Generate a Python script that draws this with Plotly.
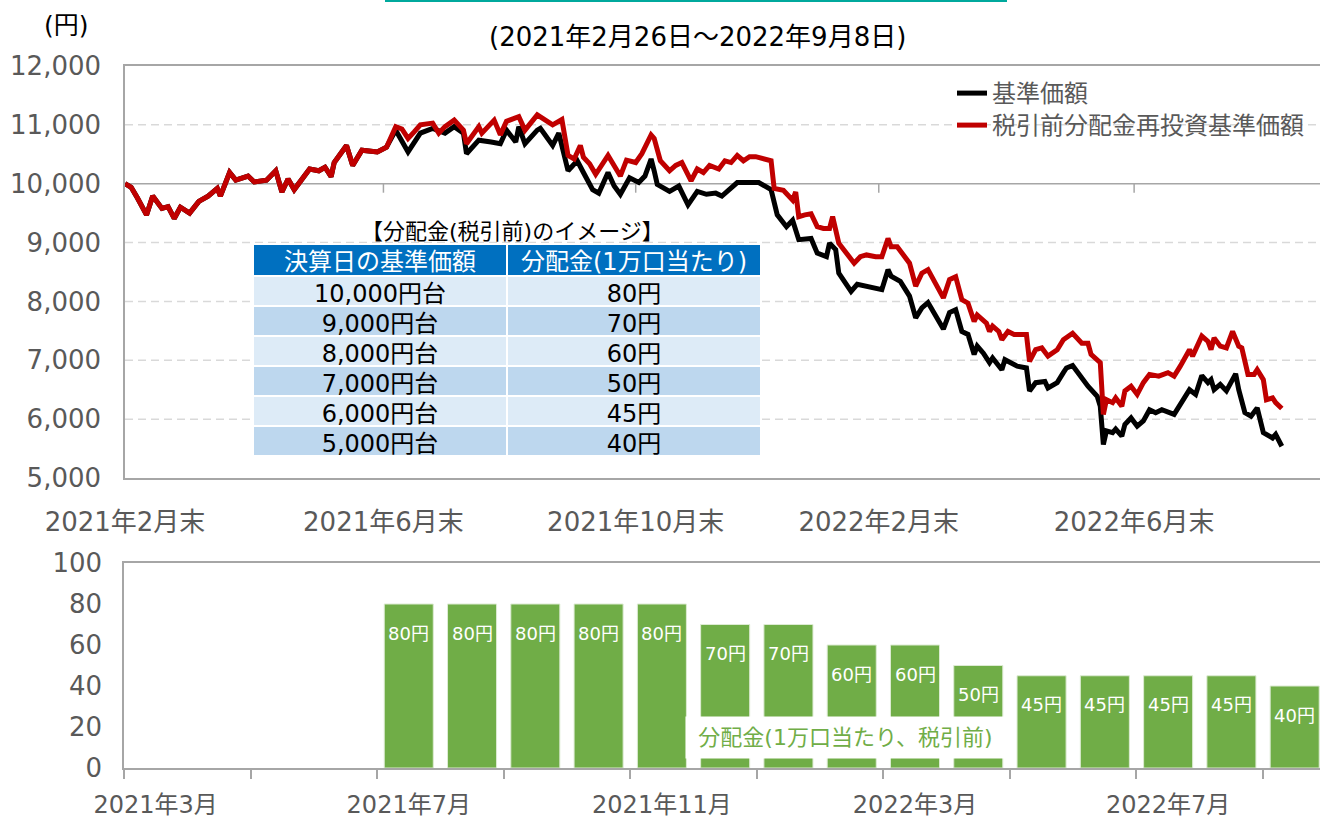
import plotly.graph_objects as go

FONT = "DejaVu Sans, Noto Sans CJK JP, sans-serif"
GRAY_TXT = "#595959"
AXIS = "#A6A6A6"
GRID = "#D9D9D9"
W, H = 1320, 819


def px(x):
    return x / W


def py(y):
    return 1 - y / H


# ---------------- data: NAV lines ----------------
shared_dates = ["2021-02-26", "2021-03-02", "2021-03-04", "2021-03-09", "2021-03-11", "2021-03-16",
                "2021-03-18", "2021-03-22", "2021-03-24", "2021-03-29", "2021-04-01", "2021-04-06",
                "2021-04-09", "2021-04-12", "2021-04-15", "2021-04-19", "2021-04-23", "2021-04-27",
                "2021-05-07", "2021-05-12", "2021-05-14", "2021-05-18", "2021-05-20", "2021-05-27",
                "2021-06-01", "2021-06-03", "2021-06-07", "2021-06-08", "2021-06-14", "2021-06-16",
                "2021-06-21", "2021-06-28", "2021-07-01"]
shared_values = [10000, 9940, 9760, 9470, 9790, 9580, 9610, 9410, 9600, 9500, 9700, 9790,
                 9920, 9790, 10190, 10060, 10130, 10030, 10060, 10220, 9860, 10080, 9900, 10250,
                 10220, 10280, 10120, 10360, 10650, 10310, 10570, 10540, 10620]

reinv_dates_later = ["2021-07-06", "2021-07-08", "2021-07-12", "2021-07-14", "2021-07-16", "2021-07-26",
                     "2021-07-28", "2021-07-30", "2021-08-04", "2021-08-10", "2021-08-11", "2021-08-17",
                     "2021-08-18", "2021-08-24", "2021-08-26", "2021-08-30", "2021-09-03", "2021-09-07",
                     "2021-09-13", "2021-09-21", "2021-09-27", "2021-09-29", "2021-10-01", "2021-10-05",
                     "2021-10-06", "2021-10-08", "2021-10-12", "2021-10-18", "2021-10-20", "2021-10-22",
                     "2021-10-26", "2021-10-29", "2021-11-02", "2021-11-08", "2021-11-09", "2021-11-11",
                     "2021-11-16", "2021-11-18", "2021-11-22", "2021-11-26", "2021-11-30", "2021-12-02",
                     "2021-12-06", "2021-12-09", "2021-12-13", "2021-12-15", "2021-12-17", "2021-12-21",
                     "2021-12-23", "2021-12-27", "2022-01-05", "2022-01-06", "2022-01-12", "2022-01-17",
                     "2022-01-18", "2022-01-19", "2022-01-21", "2022-01-25", "2022-01-27", "2022-01-31",
                     "2022-02-02", "2022-02-03", "2022-02-07", "2022-02-15", "2022-02-17", "2022-02-21",
                     "2022-02-25", "2022-03-01", "2022-03-03", "2022-03-04", "2022-03-08", "2022-03-14",
                     "2022-03-16", "2022-03-18", "2022-03-23", "2022-03-25", "2022-03-30", "2022-04-01",
                     "2022-04-05", "2022-04-07", "2022-04-11", "2022-04-13", "2022-04-14", "2022-04-19",
                     "2022-04-20", "2022-04-21", "2022-04-25", "2022-04-26", "2022-04-28", "2022-05-06",
                     "2022-05-12", "2022-05-13", "2022-05-17", "2022-05-19", "2022-05-23", "2022-05-26",
                     "2022-05-30", "2022-06-02", "2022-06-03", "2022-06-07", "2022-06-09", "2022-06-10",
                     "2022-06-15", "2022-06-16", "2022-06-17", "2022-06-21", "2022-06-22", "2022-06-24",
                     "2022-06-27", "2022-06-29", "2022-07-01", "2022-07-05", "2022-07-07", "2022-07-12",
                     "2022-07-15", "2022-07-20", "2022-07-22", "2022-07-26", "2022-07-27", "2022-07-28",
                     "2022-08-01", "2022-08-02", "2022-08-04", "2022-08-05", "2022-08-08", "2022-08-10",
                     "2022-08-15", "2022-08-17", "2022-08-19", "2022-08-22", "2022-08-24", "2022-08-26",
                     "2022-08-29", "2022-08-31", "2022-09-01", "2022-09-05", "2022-09-06", "2022-09-08"]
reinv_values_later = [10970, 10930, 10770, 10880, 11000, 11030,
                      10860, 10970, 11080, 10910, 10680, 10970,
                      10860, 11080, 10830, 11060, 11140, 10910,
                      11170, 11000, 11090, 10480, 10420, 10650,
                      10450, 10340, 10160, 10480, 10310, 10130,
                      10400, 10360, 10510, 10830, 10770, 10390,
                      10220, 10310, 10360, 10050, 10250, 10190,
                      10310, 10250, 10390, 10360, 10480, 10390,
                      10460, 10460, 10390, 9920, 9890, 9720,
                      9860, 9440, 9470, 9490, 9270, 9240,
                      9240, 9440, 8990, 8650, 8760, 8790,
                      8760, 8760, 9070, 8930, 8930, 8650,
                      8260, 8480, 8540, 8340, 8060, 8370,
                      8420, 8030, 7970, 7660, 7770, 7630,
                      7490, 7580, 7490, 7350, 7490, 7440,
                      7440, 6980, 7180, 7210, 7070, 7180,
                      7350, 7460, 7410, 7290, 7290, 7100,
                      6960, 6080, 6330, 6280, 6360, 6220,
                      6480, 6560, 6420, 6620, 6760, 6730,
                      6790, 6730, 6900, 7070, 7180, 7070,
                      7290, 7410, 7320, 7180, 7380, 7240,
                      7210, 7490, 7240, 7210, 6760, 6760,
                      6840, 6670, 6330, 6360, 6280, 6180]

nav_dates_later = ["2021-07-06", "2021-07-12", "2021-07-16", "2021-07-26", "2021-07-30", "2021-08-04",
                   "2021-08-10", "2021-08-11", "2021-08-17", "2021-08-23", "2021-08-26", "2021-08-30",
                   "2021-09-02", "2021-09-03", "2021-09-07", "2021-09-13", "2021-09-14", "2021-09-21",
                   "2021-09-24", "2021-09-29", "2021-10-04", "2021-10-06", "2021-10-11", "2021-10-13",
                   "2021-10-18", "2021-10-20", "2021-10-22", "2021-10-27", "2021-11-01", "2021-11-04",
                   "2021-11-08", "2021-11-09", "2021-11-10", "2021-11-16", "2021-11-19", "2021-11-25",
                   "2021-11-30", "2021-12-03", "2021-12-08", "2021-12-10", "2021-12-15", "2021-12-17",
                   "2021-12-22", "2021-12-28", "2022-01-05", "2022-01-07", "2022-01-13", "2022-01-17",
                   "2022-01-19", "2022-01-21", "2022-01-25", "2022-01-27", "2022-02-01", "2022-02-02",
                   "2022-02-04", "2022-02-07", "2022-02-14", "2022-02-16", "2022-02-21", "2022-02-25",
                   "2022-03-01", "2022-03-03", "2022-03-04", "2022-03-09", "2022-03-14", "2022-03-16",
                   "2022-03-18", "2022-03-23", "2022-03-25", "2022-03-30", "2022-04-01", "2022-04-05",
                   "2022-04-07", "2022-04-11", "2022-04-13", "2022-04-14", "2022-04-18", "2022-04-20",
                   "2022-04-21", "2022-04-26", "2022-04-27", "2022-05-09", "2022-05-12", "2022-05-13",
                   "2022-05-17", "2022-05-20", "2022-05-23", "2022-05-26", "2022-05-30", "2022-05-31",
                   "2022-06-02", "2022-06-07", "2022-06-09", "2022-06-14", "2022-06-15", "2022-06-16",
                   "2022-06-17", "2022-06-21", "2022-06-22", "2022-06-24", "2022-06-27", "2022-06-29",
                   "2022-07-01", "2022-07-05", "2022-07-07", "2022-07-11", "2022-07-13", "2022-07-20",
                   "2022-07-25", "2022-07-27", "2022-07-29", "2022-08-02", "2022-08-04", "2022-08-05",
                   "2022-08-08", "2022-08-10", "2022-08-15", "2022-08-18", "2022-08-19", "2022-08-23",
                   "2022-08-25", "2022-08-29", "2022-08-31", "2022-09-05", "2022-09-06", "2022-09-08"]
nav_values_later = [10910, 10540, 10860, 10940, 10860, 10970,
                    10860, 10510, 10740, 10710, 10680, 10910,
                    10710, 10970, 10680, 10910, 10940, 10650,
                    10860, 10220, 10390, 10190, 9900, 9840,
                    10190, 9960, 9820, 10100, 10020, 10130,
                    10420, 10220, 9990, 9870, 9960, 9640,
                    9870, 9820, 9840, 9790, 9930, 10020,
                    10020, 10020, 9900, 9470, 9270, 9380,
                    9050, 9050, 9070, 8820, 8760, 8990,
                    8880, 8480, 8170, 8290, 8260, 8230,
                    8200, 8540, 8430, 8340, 8090, 7720,
                    7890, 7980, 7810, 7530, 7810, 7860,
                    7490, 7440, 7100, 7240, 7120, 6960,
                    7040, 6840, 7010, 6900, 6870, 6480,
                    6620, 6640, 6530, 6620, 6790, 6870,
                    6910, 6700, 6560, 6390, 6220, 5570,
                    5800, 5770, 5830, 5710, 5910, 6020,
                    5880, 5970, 6160, 6110, 6160, 6080,
                    6330, 6500, 6420, 6740, 6620, 6670,
                    6500, 6590, 6480, 6770, 6500, 6110,
                    6050, 6190, 5770, 5680, 5740, 5540]

nav_dates = shared_dates + nav_dates_later
nav_values = shared_values + nav_values_later
reinv_dates = shared_dates + reinv_dates_later
reinv_values = shared_values + reinv_values_later

# market holidays (gaps of the business-day axis)
jp_holidays = ["2021-04-29", "2021-05-03", "2021-05-04", "2021-05-05", "2021-07-22", "2021-07-23",
               "2021-08-09", "2021-09-20", "2021-09-23", "2021-11-03", "2021-11-23", "2021-12-31",
               "2022-01-03", "2022-01-10", "2022-02-11", "2022-02-23", "2022-03-21", "2022-04-29",
               "2022-05-03", "2022-05-04", "2022-05-05", "2022-07-18", "2022-08-11", "2022-09-19",
               "2022-09-23"]

top_tick_dates = ["2021-02-26", "2021-06-30", "2021-10-29", "2022-02-28", "2022-06-30"]
top_tick_labels = ["2021年2月末", "2021年6月末", "2021年10月末", "2022年2月末", "2022年6月末"]
nav_axis_ticks = [5000, 6000, 7000, 8000, 9000, 10000, 11000, 12000]
nav_axis_cross = 10000

# ---------------- data: distributions ----------------
months = ["2021年3月", "2021年4月", "2021年5月", "2021年6月", "2021年7月", "2021年8月", "2021年9月",
          "2021年10月", "2021年11月", "2021年12月", "2022年1月", "2022年2月", "2022年3月", "2022年4月",
          "2022年5月", "2022年6月", "2022年7月", "2022年8月", "2022年9月"]
dist_values = [0, 0, 0, 0, 80, 80, 80, 80, 80, 70, 70, 60, 60, 50, 45, 45, 45, 45, 40]
month_label_idx = [0, 4, 8, 12, 16]

# ---------------- data: table ----------------
table_header = ["決算日の基準価額", "分配金(1万口当たり)"]
table_nav = ["10,000円台", "9,000円台", "8,000円台", "7,000円台", "6,000円台", "5,000円台"]
table_dist = ["80円", "70円", "60円", "50円", "45円", "40円"]
row_fill = ["#DDEBF7" if i % 2 == 0 else "#BDD7EE" for i in range(len(table_nav))]

fig = go.Figure()

fig.add_trace(go.Scatter(x=nav_dates, y=nav_values, mode="lines", name="基準価額",
                         line=dict(color="#000000", width=5), xaxis="x", yaxis="y",
                         legend="legend"))
fig.add_trace(go.Scatter(x=reinv_dates, y=reinv_values, mode="lines", name="税引前分配金再投資基準価額",
                         line=dict(color="#C00000", width=5), xaxis="x", yaxis="y",
                         legend="legend2"))

fig.add_trace(go.Bar(x=list(range(len(months))), y=dist_values, xaxis="x2", yaxis="y2",
                     marker=dict(color="#70AD47",
                                 line=dict(color="#DDEBD3", width=[1 if v else 0 for v in dist_values])),
                     width=0.775, showlegend=False, name="分配金"))

fig.add_trace(go.Table(
    domain=dict(x=[px(253), px(761)], y=[py(461), py(244)]),
    columnwidth=[1, 1],
    header=dict(values=table_header, fill_color="#0070C0", height=32, align="center",
                font=dict(color="white", size=24, family=FONT), line=dict(color="white", width=2)),
    cells=dict(values=[table_nav, table_dist], fill_color=[row_fill, row_fill], height=30,
               align="center", font=dict(color="black", size=24, family=FONT),
               line=dict(color="white", width=2)),
))

tickfont = dict(size=26, color=GRAY_TXT, family=FONT)

annotations = [
    dict(text="(2021年2月26日～2022年9月8日)", x=px(697), y=py(37), xref="paper", yref="paper",
         xanchor="center", yanchor="middle",
         showarrow=False, font=dict(size=26, color="#000000", family=FONT)),
    dict(text="(円)", x=px(66), y=py(25), xref="paper", yref="paper",
         xanchor="center", yanchor="middle",
         showarrow=False, font=dict(size=25, color="#000000", family=FONT)),
    dict(text="【分配金(税引前)のイメージ】", x=px(512), y=py(231), xref="paper", yref="paper",
         xanchor="center", yanchor="middle",
         showarrow=False, font=dict(size=22, color="#000000", family=FONT)),
    dict(text="分配金(1万口当たり、税引前)", x=px(845), y=py(737), xref="paper", yref="paper",
         xanchor="center", yanchor="middle",
         showarrow=False, width=317, height=39, bgcolor="white",
         font=dict(size=22, color="#70AD47", family=FONT)),
]
for i, v in enumerate(dist_values):
    if v:
        annotations.append(dict(x=i, y=v, xref="x2", yref="y2", text=f"{v}円", showarrow=False,
                                yshift=-29, font=dict(size=18, color="white", family=FONT)))

shapes = [
    dict(type="line", xref="paper", yref="paper", x0=px(385), x1=px(1007), y0=py(1), y1=py(1),
         line=dict(color="#00A99D", width=2)),
]
# dashed value gridlines (drawn as shapes below the data)
for v in nav_axis_ticks[1:-1]:
    if v == nav_axis_cross:
        continue
    shapes.append(dict(type="line", xref="x domain", yref="y", x0=0, x1=1, y0=v, y1=v,
                       line=dict(color=GRID, width=1.5, dash="8px,5px"), layer="below"))
# the horizontal (date) axis crosses at 10,000
shapes.append(dict(type="line", xref="x domain", yref="y", x0=0, x1=1, y0=nav_axis_cross,
                   y1=nav_axis_cross, line=dict(color=AXIS, width=1.5), layer="below"))
for d in top_tick_dates[1:]:
    shapes.append(dict(type="line", xref="x", yref="y", x0=d, x1=d, ysizemode="pixel",
                       yanchor=nav_axis_cross, y0=0, y1=-9, line=dict(color=AXIS, width=1.5),
                       layer="below"))

fig.update_layout(
    template="none",
    width=W, height=H, margin=dict(l=0, r=0, t=0, b=0, pad=0), autosize=False,
    paper_bgcolor="white", plot_bgcolor="white",
    font=dict(family=FONT, color=GRAY_TXT),
    xaxis=dict(domain=[px(125), 1], anchor="y", type="date", automargin=False,
               range=["2021-02-26", "2022-09-28 10:00"],
               rangebreaks=[dict(bounds=["sat", "mon"]), dict(values=jp_holidays)],
               tickmode="array", tickvals=top_tick_dates, ticktext=top_tick_labels,
               ticks="outside", ticklen=20, tickcolor="rgba(0,0,0,0)", tickfont=tickfont,
               showline=True, linecolor=AXIS, linewidth=1.5, mirror=True, showgrid=False,
               zeroline=False),
    yaxis=dict(domain=[py(478), py(66)], anchor="x", range=[5000, 12000], automargin=False,
               tickmode="array", tickvals=nav_axis_ticks,
               tickformat=",", showgrid=False, showline=True, linecolor=AXIS, linewidth=1.5,
               ticks="outside", ticklen=17, tickcolor="rgba(0,0,0,0)", tickfont=tickfont,
               zeroline=False),
    xaxis2=dict(domain=[px(124), 1], anchor="y2", range=[-0.5, 18.4], automargin=False,
                tickmode="array", tickvals=month_label_idx,
                ticktext=[months[i] for i in month_label_idx],
                ticks="outside", ticklen=14, tickcolor="rgba(0,0,0,0)",
                tickfont=dict(size=24, color=GRAY_TXT, family=FONT),
                minor=dict(tickmode="array", tickvals=[k - 0.5 for k in range(0, 19, 2)],
                           ticks="outside", ticklen=9, tickcolor=AXIS, tickwidth=1.5, showgrid=False),
                showline=True, linecolor=AXIS, linewidth=1.5, mirror=True, showgrid=False,
                zeroline=False),
    yaxis2=dict(domain=[py(768), py(563)], anchor="x2", range=[0, 100], dtick=20, automargin=False,
                showgrid=False, showline=True, linecolor=AXIS, linewidth=1.5,
                ticks="outside", ticklen=15, tickcolor="rgba(0,0,0,0)", tickfont=tickfont,
                zeroline=False),
    legend=dict(x=px(952), y=py(71), xanchor="left", yanchor="top",
                font=dict(size=24, color=GRAY_TXT, family=FONT), bgcolor="rgba(0,0,0,0)"),
    legend2=dict(x=px(952), y=py(103), xanchor="left", yanchor="top",
                 font=dict(size=24, color=GRAY_TXT, family=FONT), bgcolor="rgba(0,0,0,0)"),
    annotations=annotations,
    shapes=shapes,
    showlegend=True,
)

fig.write_html("out.html", config={"displayModeBar": False},
               post_script="document.body.style.margin='0px';")
